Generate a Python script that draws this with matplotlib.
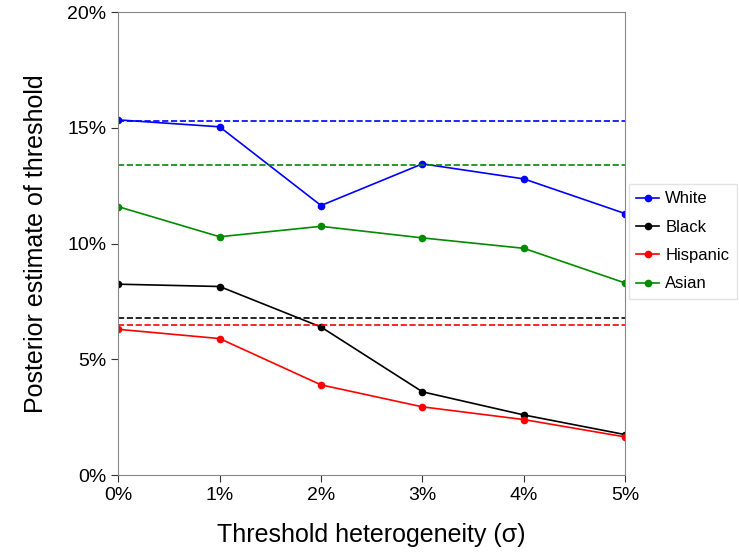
import numpy as np
import matplotlib.pyplot as plt
from matplotlib.ticker import FuncFormatter

plt.rcParams['font.family'] = ['Liberation Sans', 'DejaVu Sans']

# ---- data ----
sigma = [0, 1, 2, 3, 4, 5]
groups = ['White', 'Black', 'Hispanic', 'Asian']
colors = ['#0000FF', '#000000', '#FF0000', '#008B00']
white = [15.35, 15.05, 11.65, 13.45, 12.8, 11.3]
black = [8.25, 8.15, 6.4, 3.6, 2.6, 1.75]
hispanic = [6.3, 5.9, 3.9, 2.95, 2.4, 1.65]
asian = [11.6, 10.3, 10.75, 10.25, 9.8, 8.3]
baseline = [15.3, 6.8, 6.5, 13.4]

series = [white, black, hispanic, asian]

fig = plt.figure(figsize=(7.39, 5.57), dpi=100)
ax = fig.add_axes([0.160, 0.147, 0.686, 0.831])

for name, col, vals, base in zip(groups, colors, series, baseline):
    ax.plot(sigma, vals, color=col, marker='o', markersize=4.5, linewidth=1.2, label=name)
    ax.axhline(base, color=col, linestyle='--', linewidth=1.2)

ax.set_xlim(0, 5)
ax.set_ylim(0, 20)
ax.set_xticks(sigma)
ax.set_yticks([0, 5, 10, 15, 20])
pct = FuncFormatter(lambda v, p: f'{v:.0f}%')
ax.xaxis.set_major_formatter(pct)
ax.yaxis.set_major_formatter(pct)
ax.tick_params(direction='out', labelsize=14, color='#333333', length=5)
for s in ax.spines.values():
    s.set_color('#888888')

ax.set_xlabel('Threshold heterogeneity (σ)', fontsize=18, labelpad=14)
ax.set_ylabel('Posterior estimate of threshold', fontsize=18, labelpad=14)

ax.legend(loc='center left', bbox_to_anchor=(1.0, 0.505), fontsize=12,
          frameon=True, fancybox=False, edgecolor='#dddddd',
          handlelength=1.4, handletextpad=0.35, borderpad=0.45,
          labelspacing=0.8, borderaxespad=0.2)

fig.savefig('out.png', dpi=100)
